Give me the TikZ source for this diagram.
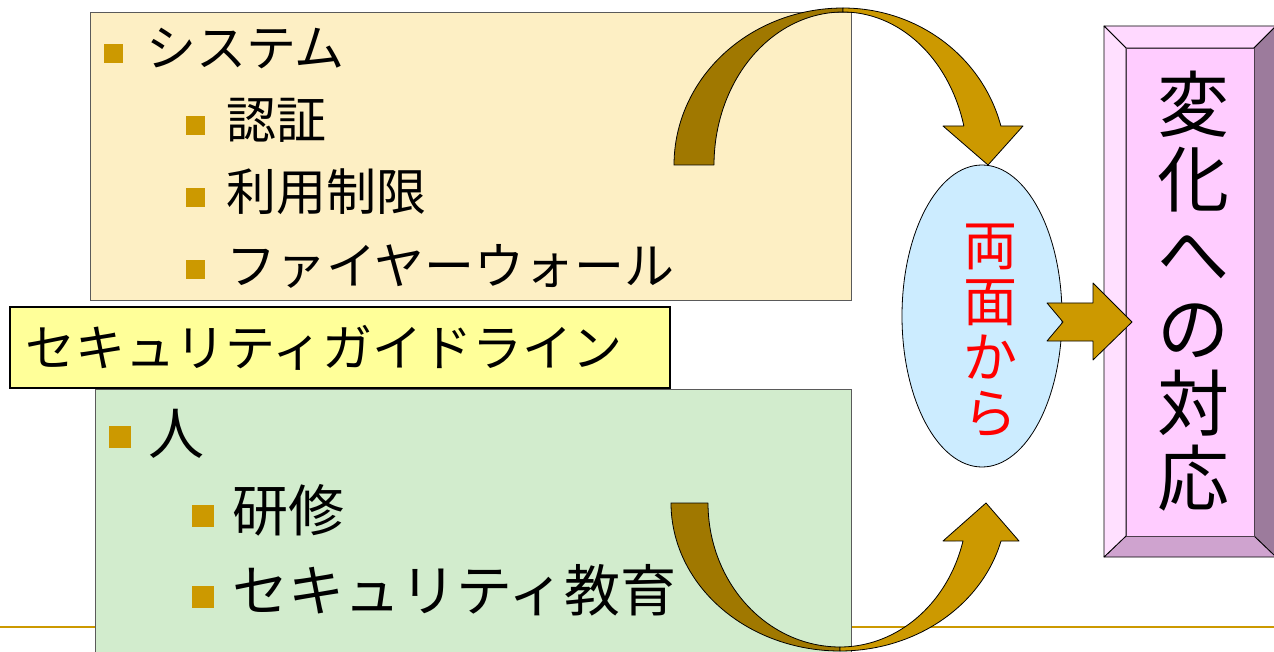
\documentclass[tikz,border=0pt]{standalone}
\usepackage{fontspec}
\setmainfont{Noto Sans CJK JP}
\usetikzlibrary{shapes.geometric}
\definecolor{topfill}{HTML}{FDEFC4}
\definecolor{greenfill}{HTML}{D2ECCD}
\definecolor{yellowfill}{HTML}{FFFF99}
\definecolor{gold}{HTML}{CC9900}
\definecolor{golddark}{HTML}{A07800}
\definecolor{boxgray}{HTML}{5A5A5A}
\definecolor{skyfill}{HTML}{CCECFF}
\definecolor{pinkface}{HTML}{FFCCFF}
\definecolor{pinktop}{HTML}{FFD9FF}
\definecolor{pinkleft}{HTML}{FFE0FF}
\definecolor{pinkbottom}{HTML}{CFA3CF}
\definecolor{pinkright}{HTML}{9C7B9C}
\begin{document}
\begin{tikzpicture}[x=1pt,y=-1pt,
  panel/.style={draw=boxgray,line width=1pt},
  sq/.style={fill=gold,draw=none,inner sep=0pt,minimum size=#1},
  sq/.default=19pt,
  txta/.style={anchor=base west,inner sep=0pt,font=\fontsize{50}{60}\selectfont},
  txtb/.style={anchor=base west,inner sep=0pt,font=\fontsize{56}{66}\selectfont},
  backarrow/.style={fill=golddark,draw=black,line width=0.8pt,line join=round},
  frontarrow/.style={fill=gold,draw=black,line width=0.8pt,line join=round},
  bevel/.style={draw=black,line width=0.8pt,line join=round},
  vchar/.style={anchor=base,inner sep=0pt}
]
\useasboundingbox (0,0) rectangle (1274,652);
\clip (0,0) rectangle (1274,652);

% gold rule
\draw[gold,line width=2.5pt] (0,627) -- (1274,627);

% top panel
\path[panel,fill=topfill] (90,13) rectangle (851,301);
\node[sq] (b1) at (113.5,54) {};
\node[txta] (t1) at (146,67) {システム};
\node[sq] (b2) at (195.5,126) {};
\node[txta] (t2) at (226,139) {認証};
\node[sq] (b3) at (195.5,198) {};
\node[txta] (t3) at (226,211) {利用制限};
\node[sq] (b4) at (195.5,270) {};
\node[txta] (t4) at (226,284) {ファイヤーウォール};

% bottom panel
\path[panel,fill=greenfill] (95,389) rectangle (851,670);
\node[sq=22pt] (b5) at (120,437) {};
\node[txtb] (t5) at (148,454) {人};
\node[sq=22pt] (b6) at (203,516) {};
\node[txtb] (t6) at (232,531) {研修};
\node[sq=22pt] (b7) at (203,597) {};
\node[txtb] (t7) at (232,611) {セキュリティ教育};

% middle label
\path[draw=black,line width=1.6pt,fill=yellowfill] (10,307) rectangle (670,388);
\node[txta] (t8) at (25,366) {セキュリティガイドライン};

% top curved arrow
\filldraw[backarrow] plot[domain=180:90,samples=50,variable=\t] ({843+169*cos(\t)},{165-157*sin(\t)})
  -- plot[domain=90:180,samples=50,variable=\t] ({843+129*cos(\t)},{165-153*sin(\t)}) -- cycle;
\filldraw[frontarrow] plot[domain=90:14.4,samples=50,variable=\t] ({843+163*cos(\t)},{165-157*sin(\t)})
  -- (1023,126) -- (988,165) -- (943,126)
  -- plot[domain=14.8:90,samples=50,variable=\t] ({843+125*cos(\t)},{165-153*sin(\t)}) -- cycle;

% bottom curved arrow
\filldraw[backarrow] plot[domain=0:90,samples=50,variable=\t] ({840-169*cos(\t)},{503+148*sin(\t)})
  -- plot[domain=90:0,samples=50,variable=\t] ({840-132*cos(\t)},{503+144*sin(\t)}) -- cycle;
\filldraw[frontarrow] plot[domain=90:14.9,samples=50,variable=\t] ({840+166.6*cos(\t)},{503+148*sin(\t)})
  -- (1019,541) -- (986,503) -- (943,541)
  -- plot[domain=15.3:90,samples=50,variable=\t] ({840+127.5*cos(\t)},{503+144*sin(\t)}) -- cycle;

% ellipse
\node[ellipse,draw=black,line width=0.8pt,fill=skyfill,minimum width=160pt,minimum height=302pt,inner sep=0pt] (ell) at (982,316) {};
\foreach \ch [count=\i] in {両,面,か,ら}
  \node[vchar,text=red,font=\fontsize{54}{60}\selectfont] (r\i) at (990,{245+56*(\i-1)+20.5}) {\ch};

% pink bevel box
\coordinate (A) at (1104,26);
\coordinate (B) at (1276,26);
\coordinate (C) at (1276,557);
\coordinate (D) at (1104,557);
\coordinate (a) at (1126,48);
\coordinate (b) at (1254,48);
\coordinate (c) at (1254,536);
\coordinate (d) at (1126,536);
\filldraw[bevel,fill=pinktop] (A) -- (B) -- (b) -- (a) -- cycle;
\filldraw[bevel,fill=pinkright] (B) -- (C) -- (c) -- (b) -- cycle;
\filldraw[bevel,fill=pinkbottom] (D) -- (C) -- (c) -- (d) -- cycle;
\filldraw[bevel,fill=pinkleft] (A) -- (D) -- (d) -- (a) -- cycle;
\filldraw[draw=black!70!pinkface,line width=0.8pt,fill=pinkface] (a) rectangle (c);
\foreach \ch [count=\i] in {変,化,へ,の,対,応}
  \node[vchar,font=\fontsize{72}{80}\selectfont] (p\i) at (1193,{105+74.6*(\i-1)+27}) {\ch};

% notched block arrow
\filldraw[frontarrow] (1047,303) -- (1093,303) -- (1093,283) -- (1132,322) -- (1093,360) -- (1093,341) -- (1047,341) -- (1063,322) -- cycle;
\end{tikzpicture}
\end{document}
